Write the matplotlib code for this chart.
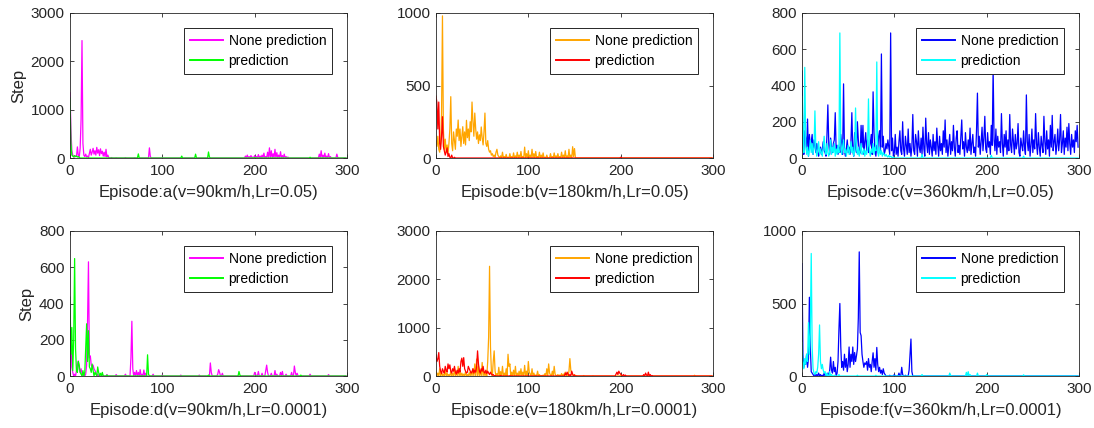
import numpy as np
import matplotlib
matplotlib.use('Agg')
import matplotlib.pyplot as plt

plt.rcParams['font.family'] = ['Liberation Sans', 'DejaVu Sans']

N_EP = 300
episodes = np.arange(N_EP)

# ---- panel a (v=90km/h, Lr=0.05) ----
a_none_ep = [0, 1, 2, 3, 4, 5, 6, 7, 8, 9, 10, 11, 12, 13, 14, 15, 16, 17, 18, 19, 20, 21, 22, 23, 24, 25,
             26, 27, 28, 29, 30, 31, 32, 33, 34, 35, 36, 37, 38, 39, 40, 41, 42, 45, 50, 60, 70, 86, 87, 100,
             120, 150, 190, 192, 194, 196, 198, 200, 202, 204, 206, 208, 210, 212, 214, 216, 218, 220, 222,
             224, 226, 228, 230, 232, 234, 236, 270, 272, 274, 276, 278, 280, 282, 289, 290]
a_none_val = [1350, 600, 150, 60, 30, 20, 40, 30, 230, 50, 20, 200, 800, 2430, 300, 60, 30, 80, 20, 40, 10,
              100, 180, 60, 120, 200, 80, 150, 60, 220, 100, 170, 50, 190, 90, 140, 40, 120, 30, 180, 20, 60,
              10, 10, 5, 8, 5, 210, 30, 5, 5, 5, 40, 60, 30, 50, 20, 50, 30, 70, 40, 60, 100, 30, 120, 210,
              150, 90, 180, 110, 60, 130, 50, 80, 30, 20, 80, 150, 60, 100, 40, 90, 30, 80, 10]
a_pre_ep = [0, 1, 2, 3, 4, 5, 6, 7, 8, 9, 10, 74, 121, 136, 150, 151, 200, 260]
a_pre_val = [1240, 300, 60, 40, 20, 50, 30, 40, 20, 30, 10, 85, 40, 80, 125, 20, 10, 15]

# ---- panel b (v=180km/h, Lr=0.05) ----
b_none_ep = list(range(0, 69)) + [70, 72, 74, 76, 78, 80, 82, 84, 86, 88, 90, 92, 94, 96, 98, 100, 102,
                                  104, 106, 108, 110, 112, 114, 116, 118, 120, 124, 126, 128, 130, 132,
                                  134, 136, 138, 140, 142, 144, 146, 148, 149, 150]
b_none_val = [120, 80, 150, 60, 40, 100, 300, 980, 200, 60, 130, 40, 90, 30, 100, 200, 423, 100, 50, 180,
              120, 60, 200, 150, 262, 120, 200, 80, 150, 216, 100, 180, 90, 260, 140, 200, 120, 250, 180,
              386, 250, 150, 310, 200, 130, 180, 100, 160, 120, 214, 140, 90, 180, 310, 100, 80, 120, 60,
              40, 50, 20, 30, 10, 20, 5, 40, 60, 20, 10,
              15, 40, 10, 25, 5, 30, 10, 35, 15, 40, 20, 45, 10, 75, 30, 50, 20, 60, 30, 45, 10, 40, 20,
              35, 5, 20, 30, 10, 35, 15, 30, 10, 40, 20, 50, 15, 60, 20, 78, 10, 65]
b_pre_ep = [0, 1, 2, 3, 4, 5, 6, 7, 8, 9, 10, 11, 12, 13, 14, 15, 17, 20, 200]
b_pre_val = [427, 380, 200, 386, 100, 60, 150, 285, 80, 50, 20, 40, 70, 10, 30, 5, 20, 5, 5]

# ---- panel c (v=360km/h, Lr=0.05) ----
c_none = [480, 60, 20, 150, 110, 40, 215, 10, 130, 60,
          90, 130, 20, 100, 70, 30, 80, 40, 10, 30,
          60, 20, 50, 90, 40, 30, 10, 120, 293, 80,
          20, 110, 60, 30, 80, 100, 250, 40, 70, 20,
          60, 30, 130, 80, 20, 409, 40, 10, 50, 100,
          30, 60, 20, 90, 250, 40, 10, 140, 60, 30,
          200, 100, 20, 30, 180, 60, 180, 20, 90, 140,
          40, 100, 30, 60, 80, 130, 20, 365, 140, 40,
          10, 70, 40, 120, 150, 30, 574, 60, 120, 20,
          40, 80, 50, 100, 60, 20, 690, 40, 110, 10,
          30, 130, 20, 60, 10, 90, 150, 40, 20, 200,
          50, 10, 120, 70, 20, 160, 30, 80, 10, 60,
          240, 40, 20, 130, 90, 10, 150, 60, 30, 110,
          20, 170, 50, 10, 220, 80, 30, 140, 20, 100,
          60, 10, 130, 40, 90, 20, 165, 70, 10, 120,
          40, 80, 20, 150, 60, 210, 30, 100, 10, 70,
          130, 20, 90, 40, 180, 60, 10, 110, 150, 30,
          70, 20, 120, 210, 50, 90, 10, 140, 60, 30,
          100, 40, 165, 20, 80, 130, 30, 60, 10, 150,
          358, 60, 120, 20, 90, 170, 40, 110, 230, 50,
          30, 140, 60, 90, 20, 180, 70, 497, 100, 40,
          160, 20, 120, 60, 90, 30, 245, 80, 10, 130,
          60, 150, 20, 100, 40, 240, 70, 30, 160, 90,
          20, 130, 50, 80, 190, 30, 10, 110, 70, 40,
          150, 60, 20, 348, 90, 40, 130, 10, 70, 160,
          30, 100, 50, 245, 80, 20, 140, 60, 10, 120,
          70, 30, 230, 90, 20, 150, 50, 100, 10, 180,
          60, 235, 40, 90, 130, 20, 70, 160, 40, 100,
          240, 30, 80, 150, 20, 110, 60, 170, 40, 190,
          80, 20, 130, 60, 100, 30, 150, 90, 180, 60]
c_pre_ep = list(range(0, 100)) + [130, 205, 240]
c_pre_val = [340, 120, 30, 500, 80, 20, 60, 10, 40, 100,
             30, 80, 20, 60, 260, 50, 10, 40, 90, 20,
             50, 30, 10, 60, 120, 40, 20, 80, 30, 10,
             40, 100, 20, 60, 30, 80, 10, 50, 20, 70,
             30, 690, 80, 20, 60, 100, 30, 50, 10, 40,
             70, 20, 40, 90, 30, 60, 10, 40, 276, 50,
             20, 60, 10, 40, 80, 20, 30, 50, 10, 40,
             20, 60, 326, 40, 10, 50, 30, 80, 20, 60,
             40, 530, 30, 10, 60, 20, 40, 10, 30, 20,
             10, 20, 10, 5, 15, 5, 10, 5, 0, 5,
             20, 15, 10]

# ---- panel d (v=90km/h, Lr=0.0001) ----
d_none_ep = [0, 1, 2, 3, 5, 7, 8, 9, 10, 11, 12, 13, 15, 17, 18, 19, 20, 21, 22, 23, 24, 25, 26, 27, 28,
             30, 35, 40, 50, 60, 66, 67, 68, 70, 72, 74, 76, 78, 80, 82, 90, 100, 120, 140, 152, 153, 160,
             161, 162, 165, 200, 201, 204, 208, 212, 213, 214, 218, 222, 224, 228, 230, 234, 240, 243, 244,
             246, 260, 280]
d_none_val = [20, 250, 50, 20, 10, 30, 60, 83, 40, 20, 40, 10, 20, 10, 60, 300, 630, 100, 111, 60, 50, 60,
              40, 30, 20, 10, 10, 8, 8, 10, 100, 302, 40, 20, 30, 20, 35, 10, 33, 15, 10, 5, 5, 5, 72, 20,
              10, 35, 20, 15, 20, 10, 25, 15, 30, 60, 20, 15, 30, 10, 20, 25, 10, 20, 55, 20, 15, 10, 8]
d_pre_ep = [0, 1, 2, 3, 4, 5, 6, 7, 8, 9, 10, 11, 12, 14, 16, 17, 18, 19, 20, 21, 22, 23, 24, 25, 27, 28,
            30, 31, 33, 35, 40, 84, 85, 150, 183, 184, 250]
d_pre_val = [435, 120, 268, 30, 200, 648, 150, 30, 20, 80, 60, 20, 10, 30, 20, 150, 288, 80, 250, 50, 40,
             20, 66, 30, 20, 10, 50, 20, 15, 20, 5, 117, 10, 5, 25, 5, 5]

# ---- panel e (v=180km/h, Lr=0.0001) ----
e_none_ep = [0, 2, 4, 6, 8, 10, 12, 14, 16, 18, 20, 22, 24, 26, 28, 30, 32, 34, 36, 38, 40, 42, 44, 46,
             48, 50, 52, 54, 56, 57, 58, 59, 60, 62, 63, 64, 66, 68, 70, 72, 74, 76, 78, 79, 80, 82, 84,
             86, 88, 90, 92, 94, 96, 98, 100, 101, 102, 104, 106, 108, 110, 112, 114, 116, 118, 120, 122,
             123, 124, 126, 128, 129, 130, 132, 134, 136, 138, 140, 142, 144, 145, 146, 147, 148, 150,
             152, 160, 170, 200, 230, 280]
e_none_val = [100, 60, 150, 80, 40, 120, 60, 30, 90, 50, 150, 100, 200, 80, 60, 40, 90, 30, 70, 100, 150,
              250, 350, 200, 120, 280, 100, 60, 300, 800, 2270, 600, 100, 300, 520, 100, 50, 180, 90, 200,
              60, 150, 450, 200, 250, 80, 120, 200, 60, 100, 150, 80, 220, 100, 300, 80, 40, 150, 60, 20,
              100, 30, 10, 20, 50, 150, 250, 60, 20, 100, 200, 40, 10, 30, 20, 50, 40, 80, 30, 100, 360,
              120, 40, 20, 30, 10, 10, 5, 20, 10, 15]
e_pre_ep = list(range(0, 63)) + [64, 70, 80, 140, 141, 142, 143, 145, 147, 148, 150, 195, 196, 197, 198,
                                 199, 200, 201, 203, 205, 225, 227, 228, 230, 232, 234]
e_pre_val = [440, 300, 350, 485, 200, 100, 50, 150, 100, 60, 200, 120, 80, 250, 150, 230, 100, 60, 150,
             100, 200, 80, 40, 120, 60, 150, 80, 300, 370, 200, 380, 150, 100, 60, 80, 200, 150, 100, 60,
             80, 150, 60, 120, 80, 200, 520, 250, 100, 60, 150, 100, 200, 80, 60, 120, 50, 100, 60, 30,
             80, 40, 20, 30,
             10, 10, 5, 60, 20, 80, 40, 30, 100, 40, 20, 40, 80, 30, 100, 60, 40, 20, 30, 20, 30, 60, 20,
             80, 30, 10]

# ---- panel f (v=360km/h, Lr=0.0001) ----
f_none_ep = list(range(0, 13)) + [14, 16, 18, 20, 22, 24, 26, 28, 30] + list(range(31, 37)) + \
            list(range(38, 91)) + [95, 100, 105, 108, 109, 112, 116, 117, 118, 119]
f_none_val = [775, 150, 60, 100, 80, 150, 60, 120, 543, 200, 30, 20, 10,
              15, 10, 20, 10, 5, 20, 10, 20, 40,
              130, 40, 20, 100, 30, 60,
              20, 100, 320, 500, 200, 60, 100, 40, 150, 60, 120, 30, 80, 200, 60, 150, 100, 200, 80, 162,
              100, 140, 187, 400, 856, 300, 278, 150, 100, 60, 90, 80, 100, 40, 120, 60, 80, 30, 100, 160,
              60, 120, 40, 197, 80, 30, 60, 20, 40, 10, 50, 20, 10,
              5, 10, 20, 60, 10, 5, 40, 150, 255, 30]
f_pre_ep = list(range(0, 26)) + [27, 30, 32, 35, 40, 60, 80, 130, 160, 161, 178, 180, 182, 190, 200, 240]
f_pre_val = [230, 100, 50, 120, 80, 150, 100, 368, 150, 300, 845, 200, 50, 20, 10, 30, 20, 60, 150, 352,
             100, 50, 80, 40, 20, 30,
             20, 30, 10, 5, 10, 5, 5, 10, 20, 5, 25, 30, 10, 20, 10, 8]

xlabels = ['Episode:a(v=90km/h,Lr=0.05)', 'Episode:b(v=180km/h,Lr=0.05)', 'Episode:c(v=360km/h,Lr=0.05)',
           'Episode:d(v=90km/h,Lr=0.0001)', 'Episode:e(v=180km/h,Lr=0.0001)', 'Episode:f(v=360km/h,Lr=0.0001)']
yticks = [[0, 1000, 2000, 3000], [0, 500, 1000], [0, 200, 400, 600, 800],
          [0, 200, 400, 600, 800], [0, 1000, 2000, 3000], [0, 500, 1000]]
none_colors = ['#FF00FF', '#FFA500', '#0000FF', '#FF00FF', '#FFA500', '#0000FF']
pre_colors = ['#00FF00', '#FF0000', '#00FFFF', '#00FF00', '#FF0000', '#00FFFF']


def sparse(ep, val):
    y = np.zeros(N_EP)
    y[np.array(ep)] = val
    return y


none_series = [sparse(a_none_ep, a_none_val), sparse(b_none_ep, b_none_val), np.array(c_none, float),
               sparse(d_none_ep, d_none_val), sparse(e_none_ep, e_none_val), sparse(f_none_ep, f_none_val)]
pre_series = [sparse(a_pre_ep, a_pre_val), sparse(b_pre_ep, b_pre_val), sparse(c_pre_ep, c_pre_val),
              sparse(d_pre_ep, d_pre_val), sparse(e_pre_ep, e_pre_val), sparse(f_pre_ep, f_pre_val)]

fig = plt.figure(figsize=(10.94, 4.28), dpi=100)
lefts = [70, 436, 802]
tops = [13, 231]
W, H = 277, 145
dark = '#262626'

for k in range(6):
    r, c = divmod(k, 3)
    ax = fig.add_axes([lefts[c] / 1094, 1 - (tops[r] + H) / 428, W / 1094, H / 428])
    ax.plot(episodes, none_series[k], color=none_colors[k], lw=0.9, label='None prediction')
    ax.plot(episodes, pre_series[k], color=pre_colors[k], lw=0.9, label='prediction')
    ax.set_xlim(0, 300)
    ax.set_ylim(yticks[k][0], yticks[k][-1])
    ax.set_xticks([0, 100, 200, 300])
    ax.set_yticks(yticks[k])
    ax.tick_params(direction='in', top=True, right=True, length=3, width=0.6,
                   labelsize=11, colors=dark, pad=4)
    for s in ax.spines.values():
        s.set_linewidth(0.6)
        s.set_color(dark)
    ax.set_xlabel(xlabels[k], fontsize=12, color=dark, labelpad=5)
    if c == 0:
        ax.set_ylabel('Step', fontsize=12, color=dark, labelpad=3)
    leg = ax.legend(loc='upper right', fontsize=10, fancybox=False, framealpha=1,
                    edgecolor=dark, borderaxespad=1.1, handlelength=2.4, handletextpad=0.4,
                    labelspacing=0.45, borderpad=0.4)
    leg.get_frame().set_linewidth(0.7)
    for ln in leg.get_lines():
        ln.set_linewidth(1.4)

plt.savefig('out.png', dpi=100)
